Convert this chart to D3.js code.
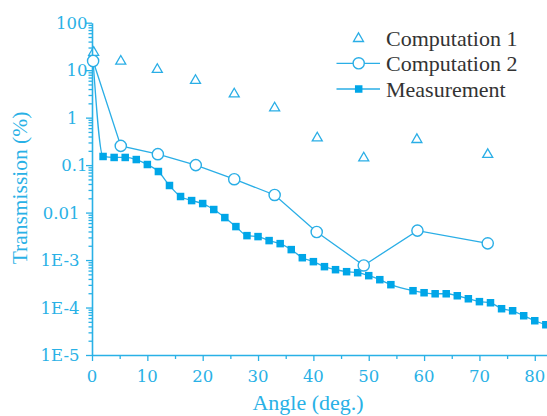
<!DOCTYPE html>
<html>
<head>
<meta charset="utf-8">
<script src="https://cdn.jsdelivr.net/npm/d3@7"></script>
<style>
  html, body { margin: 0; padding: 0; background: #fff; }
  svg { display: block; }
</style>
</head>
<body>
<svg id="chart" width="547" height="416"></svg>
<script>
// ---- data ----
const seriesNames = ["Computation 1", "Computation 2", "Measurement"];

const comp1Angles = [0.3, 5.2, 11.8, 18.7, 25.7, 33.0, 40.7, 49.1, 58.7, 71.5];
const comp1Values = [25, 16.3, 10.9, 6.4, 3.33, 1.69, 0.394, 0.149, 0.364, 0.176];

const comp2Angles = [0.2, 5.2, 11.9, 18.75, 25.7, 33.0, 40.6, 49.1, 58.8, 71.5];
const comp2Values = [15.6, 0.254, 0.170, 0.100, 0.0505, 0.0235, 0.0039, 0.00077, 0.00417, 0.00225];

const measAngles = [0.2, 2, 4, 6, 8, 10, 12, 14, 16, 18, 20, 22, 24, 26, 28, 30, 32, 34, 36, 38, 40,
  42, 44, 46, 48, 50, 52, 54, 58, 60, 62, 64, 66, 68, 70, 72, 74, 76, 78, 80, 82];
const measValues = [15.6, 0.152, 0.145, 0.145, 0.131, 0.103, 0.0733, 0.0372, 0.0218, 0.0179, 0.0155,
  0.0116, 0.00785, 0.00507, 0.00327, 0.00312, 0.00257, 0.00222, 0.00166, 0.00112, 0.000925,
  0.000726, 0.000627, 0.000569, 0.000542, 0.000469, 0.000386, 0.000303,
  0.000226, 0.000205, 0.000195, 0.000195, 0.000177, 0.000153, 0.000133, 0.000126,
  0.0000944, 0.0000855, 0.0000671, 0.0000527, 0.0000434];

const xTickValues = [0, 10, 20, 30, 40, 50, 60, 70, 80];
const xMinorTicks = [5, 15, 25, 35, 45, 55, 65, 75];
const yTickValues = [100, 10, 1, 0.1, 0.01, 0.001, 0.0001, 0.00001];
const yTickLabels = ["100", "10", "1", "0.1", "0.01", "1E-3", "1E-4", "1E-5"];
const xTitle = "Angle (deg.)";
const yTitle = "Transmission (%)";

// ---- style ----
const axisColor = "#29b1e6";
const lineColor = "#2aaee6";
const fillColor = "#00a6e8";
const serif = "'Liberation Serif', 'Times New Roman', serif";
const tickFont = "'DejaVu Serif', serif";

const svg = d3.select("#chart");

const x = d3.scaleLinear().domain([0, 82.3]).range([92, 547.5]);
const y = d3.scaleLog().domain([1e-5, 100]).range([355, 22.7]);

// minor y ticks
const yMinor = [];
for (let e = -5; e < 2; e++) {
  for (let m = 2; m <= 9; m++) yMinor.push(m * Math.pow(10, e));
}

// ---- axes ----
const gx = svg.append("g").attr("transform", `translate(0,${y(1e-5)})`)
  .call(d3.axisBottom(x).tickValues(xTickValues).tickSize(6).tickSizeOuter(0).tickFormat(""));
const gxm = svg.append("g").attr("transform", `translate(0,${y(1e-5)})`)
  .call(d3.axisBottom(x).tickValues(xMinorTicks).tickSize(4).tickSizeOuter(0).tickFormat(""));
gxm.select(".domain").remove();

const gy = svg.append("g").attr("transform", `translate(${x(0)},0)`)
  .call(d3.axisLeft(y).tickValues(yTickValues).tickSize(6).tickSizeOuter(0).tickFormat(""));
const gym = svg.append("g").attr("transform", `translate(${x(0)},0)`)
  .call(d3.axisLeft(y).tickValues(yMinor).tickSize(3.5).tickSizeOuter(0).tickFormat(""));
gym.select(".domain").remove();

svg.selectAll(".domain").attr("stroke", axisColor).attr("stroke-width", 1.6);
svg.selectAll(".tick line").attr("stroke", axisColor).attr("stroke-width", 1.3);

// x tick labels
svg.append("g").selectAll("text").data(xTickValues).join("text")
  .attr("x", d => x(d)).attr("y", 381.5)
  .attr("text-anchor", "middle")
  .attr("font-family", tickFont).attr("font-size", 16.5)
  .attr("fill", axisColor)
  .text(d => d);

// y tick labels
function labelEnd(d) {
  if (d === 1) return 77.5;
  if (d >= 0.1) return 87.5;
  return 79.5;
}
svg.append("g").selectAll("text").data(yTickValues).join("text")
  .attr("x", d => labelEnd(d)).attr("y", d => y(d) + 6)
  .attr("text-anchor", "end")
  .attr("font-family", tickFont).attr("font-size", 16.5)
  .attr("fill", axisColor)
  .text((d, i) => yTickLabels[i]);

// axis titles
svg.append("text")
  .attr("x", 308).attr("y", 410)
  .attr("text-anchor", "middle")
  .attr("font-family", serif).attr("font-size", 22)
  .attr("fill", axisColor)
  .text(xTitle);

svg.append("text")
  .attr("transform", `translate(27,${188}) rotate(-90)`)
  .attr("text-anchor", "middle")
  .attr("font-family", serif).attr("font-size", 21.5)
  .attr("fill", axisColor)
  .text(yTitle);

// ---- series ----
const meas = measAngles.map((a, i) => [a, measValues[i]]);
const comp2 = comp2Angles.map((a, i) => [a, comp2Values[i]]);
const comp1 = comp1Angles.map((a, i) => [a, comp1Values[i]]);

svg.append("path").datum(meas)
  .attr("fill", "none").attr("stroke", lineColor).attr("stroke-width", 1.3)
  .attr("d", d3.line().x(d => x(d[0])).y(d => y(d[1])).curve(d3.curveMonotoneX));

const sq = 7.5;
svg.append("g").selectAll("rect").data(meas.slice(1)).join("rect")
  .attr("x", d => x(d[0]) - sq / 2).attr("y", d => y(d[1]) - sq / 2)
  .attr("width", sq).attr("height", sq)
  .attr("fill", fillColor);

svg.append("path").datum(comp2)
  .attr("fill", "none").attr("stroke", lineColor).attr("stroke-width", 1.3)
  .attr("d", d3.line().x(d => x(d[0])).y(d => y(d[1])));

svg.append("g").selectAll("circle").data(comp2).join("circle")
  .attr("cx", d => x(d[0])).attr("cy", d => y(d[1])).attr("r", 5.6)
  .attr("fill", "#fff").attr("stroke", lineColor).attr("stroke-width", 1.4);

const tri = "M0,-4.6L5,4L-5,4Z";
svg.append("g").selectAll("path").data(comp1).join("path")
  .attr("transform", d => `translate(${x(d[0])},${y(d[1])})`)
  .attr("d", tri)
  .attr("fill", "none").attr("stroke", lineColor).attr("stroke-width", 1.3);

// ---- legend ----
const legY = [37.5, 63.3, 89];
const leg = svg.append("g");
// row 1: triangle only
leg.append("path").attr("transform", `translate(358.5,${legY[0]})`).attr("d", tri)
  .attr("fill", "none").attr("stroke", lineColor).attr("stroke-width", 1.3);
// row 2
leg.append("line").attr("x1", 336.5).attr("x2", 380).attr("y1", legY[1]).attr("y2", legY[1])
  .attr("stroke", lineColor).attr("stroke-width", 1.3);
leg.append("circle").attr("cx", 358.7).attr("cy", legY[1]).attr("r", 5.6)
  .attr("fill", "#fff").attr("stroke", lineColor).attr("stroke-width", 1.4);
// row 3
leg.append("line").attr("x1", 336.5).attr("x2", 380).attr("y1", legY[2]).attr("y2", legY[2])
  .attr("stroke", lineColor).attr("stroke-width", 1.3);
leg.append("rect").attr("x", 358.7 - sq / 2).attr("y", legY[2] - sq / 2).attr("width", sq).attr("height", sq)
  .attr("fill", fillColor);

leg.selectAll("text").data(seriesNames).join("text")
  .attr("x", 386).attr("y", (d, i) => legY[i] + 8)
  .attr("font-family", serif).attr("font-size", 22)
  .attr("fill", "#333")
  .text(d => d);
</script>
</body>
</html>
